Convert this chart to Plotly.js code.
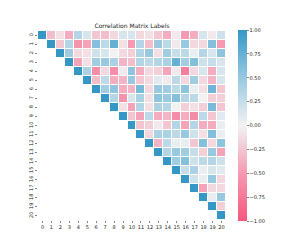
<!DOCTYPE html>
<html>
<head>
<meta charset="utf-8">
<script src="https://cdn.plot.ly/plotly-3.0.1.min.js"></script>
<style>html,body{margin:0;padding:0;background:#fff;}#chart{width:305px;height:249px;}</style>
</head>
<body>
<div id="chart"></div>
<script>
// Upper-triangle correlation values (row i, columns i..20)
const labels = [0,1,2,3,4,5,6,7,8,9,10,11,12,13,14,15,16,17,18,19,20];
const row0  = [1, -0.3, -0.1, -0.4, 0.35, 0.15, -0.25, -0.3, -0.15, 0.15, 0.15, -0.15, -0.1, -0.25, -0.4, -0.05, -0.5, -0.4, 0.15, -0.05, 0.2];
const row1  = [1, -0.25, 0.35, -0.55, -0.45, 0.6, 0.3, 0.75, -0.1, -0.5, 0.35, -0.3, 0.5, 0.3, -0.05, 0.5, -0.15, -0.15, 0.6, -0.5];
const row2  = [1, 0.45, -0.15, -0.1, 0.2, 0.15, 0.0, -0.15, -0.2, 0.35, 0.5, -0.1, 0.45, 0.25, 0.3, 0.05, 0.35, 0.15, 0.55];
const row3  = [1, -0.45, -0.1, 0.45, 0.5, 0.4, -0.35, -0.3, 0.35, 0.3, 0.35, 0.4, 0.75, 0.45, 0.6, 0.2, 0.25, 0.15];
const row4  = [1, 0.4, -0.6, -0.15, -0.6, -0.05, 0.55, -0.4, -0.15, -0.2, -0.45, -0.05, -0.7, -0.15, 0.15, -0.4, 0.15];
const row5  = [1, -0.3, 0.3, -0.4, -0.35, 0.5, -0.25, -0.15, 0.1, -0.05, 0.3, -0.15, 0.45, -0.15, -0.35, 0.15];
const row6  = [1, 0.45, 0.55, -0.4, -0.35, 0.65, -0.15, 0.5, 0.45, 0.3, 0.55, 0.05, -0.1, 0.7, -0.25];
const row7  = [1, 0.35, -0.55, 0.15, 0.4, -0.1, 0.55, 0.5, 0.6, 0.35, 0.3, 0.0, -0.2, -0.2];
const row8  = [1, -0.1, -0.45, 0.35, -0.1, 0.4, 0.35, 0.0, -0.2, -0.1, -0.2, 0.65, -0.25];
const row9  = [1, -0.25, -0.45, 0.3, -0.4, -0.35, -0.6, -0.4, -0.6, 0.3, -0.25, 0.1];
const row10 = [1, -0.25, -0.2, -0.05, -0.25, 0.35, -0.45, 0.35, -0.4, -0.4, 0.05];
const row11 = [1, -0.15, 0.4, 0.4, 0.3, 0.5, 0.2, -0.1, 0.6, 0.05];
const row12 = [1, -0.35, 0.3, 0.05, 0.05, -0.25, 0.6, -0.15, 0.55];
const row13 = [1, 0.35, 0.5, 0.45, 0.25, -0.2, 0.5, -0.45];
const row14 = [1, 0.45, 0.6, 0.2, 0.3, 0.35, 0.2];
const row15 = [1, 0.25, 0.4, 0.05, 0.15, 0.1];
const row16 = [1, 0.2, 0.05, 0.5, -0.15];
const row17 = [1, -0.45, -0.15, -0.15];
const row18 = [1, 0.05, 0.5];
const row19 = [1, -0.2];
const row20 = [1];
const colorbarTicks = [-1, -0.75, -0.5, -0.25, 0, 0.25, 0.5, 0.75, 1];
const colorbarTickText = ['\u22121.00','\u22120.75','\u22120.50','\u22120.25','0.00','0.25','0.50','0.75','1.00'];

const rows = [row0,row1,row2,row3,row4,row5,row6,row7,row8,row9,row10,row11,row12,row13,row14,row15,row16,row17,row18,row19,row20];
const z = rows.map((r, i) => Array(i).fill(null).concat(r));

const trace = {
  type: 'heatmap',
  x: labels, y: labels, z: z,
  zmin: -1, zmax: 1,
  xgap: 1, ygap: 1,
  hoverinfo: 'skip',
  colorscale: [
    [0, '#f5577e'],
    [0.25, '#f49ab2'],
    [0.5, '#f2f2f2'],
    [0.75, '#98c9e1'],
    [1, '#3497c6']
  ],
  colorbar: {
    x: 1.066, xanchor: 'left', xpad: 0, y: 0.5, yanchor: 'middle', ypad: 0,
    len: 1.01, lenmode: 'fraction',
    thickness: 9, outlinewidth: 0,
    ticks: 'outside', ticklen: 2, tickwidth: 0.6, tickcolor: '#333',
    tickvals: colorbarTicks, ticktext: colorbarTickText,
    tickfont: {family: 'DejaVu Sans', size: 5, color: '#222'}
  }
};

const layout = {
  width: 305, height: 249,
  margin: {l: 37.5, r: 78.5, t: 31, b: 29, pad: 0},
  paper_bgcolor: '#fff', plot_bgcolor: '#fff',
  title: {text: 'Correlation Matrix Labels', x: 0.433, xanchor: 'center', y: 0.895, yanchor: 'middle', font: {family: 'DejaVu Sans', size: 6, color: '#222'}},
  xaxis: {
    range: [-0.5, 20.5], tickvals: labels, ticktext: labels.map(String),
    ticks: 'outside', ticklen: 2, tickwidth: 0.6, tickcolor: '#333',
    showgrid: false, zeroline: false, showline: false,
    tickfont: {family: 'DejaVu Sans', size: 5, color: '#222'}, tickangle: 0
  },
  yaxis: {
    range: [20.5, -0.5], tickvals: labels, ticktext: labels.map(String),
    ticks: 'outside', ticklen: 2, tickwidth: 0.6, tickcolor: '#333',
    showgrid: false, zeroline: false, showline: false,
    tickfont: {family: 'DejaVu Sans', size: 5, color: '#222'}, tickangle: -90
  },
  showlegend: false
};

Plotly.newPlot('chart', [trace], layout, {staticPlot: true, displayModeBar: false});
</script>
</body>
</html>
